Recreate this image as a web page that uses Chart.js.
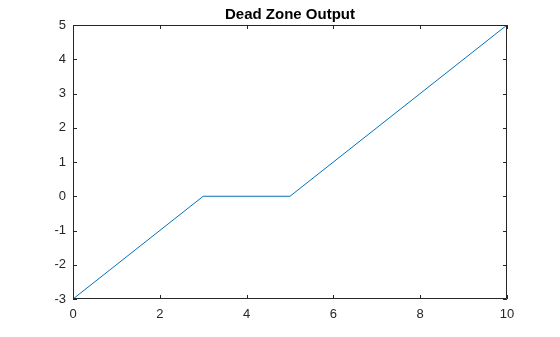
<!DOCTYPE html>
<html lang="en">
<head>
    <meta charset="UTF-8">
    <title>Dead Zone Output</title>
    <script src="https://cdn.jsdelivr.net/npm/chart.js"></script>
    <style>
        body { margin: 0; padding: 0; background: #fff; }
        #wrap { width: 560px; height: 337px; }
    </style>
</head>
<body>
    <div id="wrap"><canvas id="dz"></canvas></div>

    <script>
        // breakpoints of the dead zone output (input -> output)
        const inputX = [0, 3, 5, 10];
        const outputY = [-3, 0, 0, 5];
        const xTicks = [0, 2, 4, 6, 8, 10];
        const yTicks = [-3, -2, -1, 0, 1, 2, 3, 4, 5];
        const titleText = 'Dead Zone Output';

        const axisColor = '#262626';
        const fontFamily = '"Liberation Sans", Arial, sans-serif';

        // frame, inner ticks on all four sides and the title
        const matlabBox = {
            id: 'matlabBox',
            afterDraw(chart) {
                const ctx = chart.ctx;
                const a = chart.chartArea;
                const xs = chart.scales.x, ys = chart.scales.y;
                const tl = 4;
                ctx.save();
                ctx.strokeStyle = axisColor;
                ctx.lineWidth = 1;
                ctx.beginPath();
                ctx.rect(Math.round(a.left) + 0.5, Math.round(a.top) + 0.5,
                         Math.round(a.right - a.left) - 1, Math.round(a.bottom - a.top) - 1);
                xTicks.forEach(v => {
                    const px = Math.round(xs.getPixelForValue(v)) + 0.5;
                    ctx.moveTo(px, a.bottom); ctx.lineTo(px, a.bottom - tl);
                    ctx.moveTo(px, a.top); ctx.lineTo(px, a.top + tl);
                });
                yTicks.forEach(v => {
                    const py = Math.round(ys.getPixelForValue(v)) + 0.5;
                    ctx.moveTo(a.left, py); ctx.lineTo(a.left + tl, py);
                    ctx.moveTo(a.right, py); ctx.lineTo(a.right - tl, py);
                });
                ctx.stroke();

                ctx.fillStyle = '#000';
                ctx.font = 'bold 15px ' + fontFamily;
                ctx.textAlign = 'center';
                ctx.textBaseline = 'alphabetic';
                ctx.fillText(titleText, (a.left + a.right) / 2, a.top - 6);
                ctx.restore();
            }
        };

        new Chart(document.getElementById('dz'), {
            type: 'scatter',
            data: {
                datasets: [{
                    data: inputX.map((x, i) => ({ x: x, y: outputY[i] })),
                    showLine: true,
                    borderColor: '#0072BD',
                    borderWidth: 1,
                    pointRadius: 0,
                    fill: false
                }]
            },
            options: {
                responsive: true,
                maintainAspectRatio: false,
                animation: false,
                layout: { padding: { top: 25, right: 53, left: 0, bottom: 0 } },
                plugins: {
                    legend: { display: false },
                    tooltip: { enabled: false }
                },
                scales: {
                    x: {
                        type: 'linear',
                        min: 0, max: 10,
                        afterBuildTicks: s => { s.ticks = xTicks.map(v => ({ value: v })); },
                        afterFit: s => { s.height = 38; },
                        grid: { display: false, drawTicks: false },
                        border: { display: false },
                        ticks: { color: axisColor, padding: 8, maxRotation: 0,
                                 font: { family: fontFamily, size: 13 } }
                    },
                    y: {
                        type: 'linear',
                        min: -3, max: 5,
                        afterBuildTicks: s => { s.ticks = yTicks.map(v => ({ value: v })); },
                        afterFit: s => { s.width = 73; },
                        grid: { display: false, drawTicks: false },
                        border: { display: false },
                        ticks: { color: axisColor, padding: 7,
                                 font: { family: fontFamily, size: 13 } }
                    }
                }
            },
            plugins: [matlabBox]
        });
    </script>
</body>
</html>
